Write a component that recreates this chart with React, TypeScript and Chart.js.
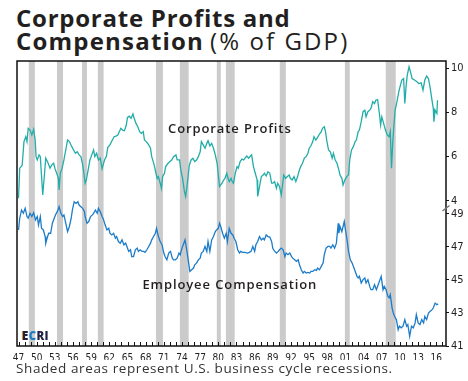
import React, { useEffect, useRef } from "react";
import { Chart, registerables } from "chart.js";

Chart.register(...registerables);

// ---- Data ----
const profitYears = [
  1947.0, 1947.2, 1947.6, 1947.9, 1948.2, 1948.4, 1948.6, 1948.9, 1949.2, 1949.5, 1949.75, 1949.9,
  1950.1, 1950.4, 1950.6, 1951.0, 1951.3, 1951.5, 1951.9, 1952.2, 1952.5, 1952.8, 1953.0, 1953.3,
  1953.6, 1953.7, 1953.9, 1954.2, 1954.5, 1954.8, 1955.1, 1955.4, 1955.8, 1956.1, 1956.4, 1956.7,
  1957.0, 1957.3, 1957.6, 1957.8, 1958.0, 1958.2, 1958.5, 1958.8, 1959.1, 1959.4, 1959.6, 1959.9,
  1960.2, 1960.5, 1960.8, 1961.2, 1961.5, 1961.75, 1962.1, 1962.5, 1962.8, 1963.1, 1963.4, 1963.9,
  1964.2, 1964.5, 1964.8, 1965.0, 1965.3, 1965.6, 1965.9, 1966.1, 1966.4, 1966.7, 1967.0, 1967.3,
  1967.6, 1967.8, 1968.1, 1968.5, 1968.8, 1969.0, 1969.4, 1969.7, 1969.9, 1970.1, 1970.4, 1970.6,
  1970.8, 1971.1, 1971.3, 1971.7, 1972.0, 1972.3, 1972.6, 1973.0, 1973.2, 1973.6, 1973.8, 1974.1,
  1974.4, 1974.6, 1974.8, 1975.0, 1975.2, 1975.5, 1975.8, 1976.1, 1976.4, 1976.7, 1977.0, 1977.2,
  1977.5, 1977.8, 1978.1, 1978.3, 1978.6, 1978.9, 1979.2, 1979.5, 1979.8, 1980.0, 1980.2, 1980.6,
  1980.9, 1981.1, 1981.4, 1981.6, 1981.8, 1982.1, 1982.3, 1982.5, 1982.8, 1983.1, 1983.3, 1983.6,
  1983.9, 1984.2, 1984.4, 1984.7, 1985.0, 1985.3, 1985.5, 1985.8, 1986.1, 1986.4, 1986.5, 1986.8,
  1987.1, 1987.4, 1987.6, 1987.9, 1988.2, 1988.5, 1988.8, 1989.0, 1989.3, 1989.6, 1989.8, 1990.1,
  1990.4, 1990.6, 1990.8, 1991.1, 1991.4, 1991.7, 1991.9, 1992.2, 1992.5, 1992.8, 1993.1, 1993.3,
  1993.6, 1993.9, 1994.2, 1994.5, 1994.8, 1995.0, 1995.3, 1995.6, 1995.8, 1996.1, 1996.4, 1996.7,
  1997.0, 1997.2, 1997.5, 1997.7, 1997.9, 1998.2, 1998.5, 1998.8, 1999.0, 1999.3, 1999.6, 1999.9,
  2000.1, 2000.4, 2000.6, 2000.9, 2001.2, 2001.5, 2001.7, 2002.0, 2002.3, 2002.6, 2002.8, 2003.1,
  2003.3, 2003.6, 2003.9, 2004.2, 2004.4, 2004.7, 2005.0, 2005.2, 2005.5, 2005.8, 2006.0, 2006.3,
  2006.6, 2006.8, 2007.0, 2007.3, 2007.6, 2007.9, 2008.2, 2008.4, 2008.6, 2008.8, 2009.0, 2009.2,
  2009.5, 2009.8, 2010.0, 2010.3, 2010.6, 2010.8, 2011.0, 2011.2, 2011.5, 2011.8, 2012.0, 2012.4,
  2012.8, 2013.1, 2013.5, 2013.8, 2014.1, 2014.4, 2014.7, 2015.0, 2015.2, 2015.5, 2015.6, 2015.8,
  2016.1, 2016.2,
];
const profitValues = [
  4.12, 5.48, 5.6, 6.68, 6.9, 6.68, 7.28, 7.2, 6.98, 7.23, 6.75, 6.0,
  5.85, 6.08, 6.0, 4.27, 5.25, 5.93, 5.7, 5.48, 5.63, 5.7, 5.48, 5.25,
  5.02, 4.5, 5.25, 5.48, 5.85, 6.3, 6.75, 6.68, 6.45, 6.3, 6.15, 6.22,
  6.08, 6.0, 5.63, 5.25, 4.8, 4.95, 5.4, 5.85, 6.08, 6.3, 6.0, 6.15,
  5.85, 5.93, 5.45, 5.85, 6.0, 6.42, 6.53, 6.75, 6.9, 6.93, 6.98, 7.28,
  7.2, 7.17, 7.43, 7.77, 7.83, 7.73, 7.93, 7.73, 7.5, 7.35, 7.13, 7.05,
  7.13, 6.75, 6.68, 6.53, 6.38, 6.0, 5.63, 5.25, 5.02, 5.1, 4.8, 4.57,
  5.1, 5.25, 5.55, 5.7, 5.78, 5.85, 6.0, 6.08, 5.85, 5.85, 5.4, 5.02,
  4.42, 4.2, 4.6, 5.1, 5.6, 5.85, 5.93, 5.78, 5.85, 6.0, 6.22, 6.68,
  6.53, 6.38, 6.6, 6.72, 6.49, 6.6, 6.38, 6.08, 5.7, 5.17, 4.65, 4.8,
  4.95, 5.02, 5.25, 5.02, 4.87, 5.02, 4.87, 4.8, 5.25, 5.55, 5.48, 5.78,
  5.89, 5.85, 5.93, 6.03, 5.93, 6.03, 6.08, 5.55, 5.25, 4.95, 4.2, 4.65,
  5.1, 5.17, 5.25, 5.13, 5.32, 5.25, 4.8, 4.8, 4.87, 4.57, 4.8, 4.65,
  4.27, 4.72, 5.17, 5.02, 5.1, 5.17, 5.02, 4.95, 5.1, 4.87, 5.1, 5.32,
  5.55, 5.7, 5.93, 6.0, 6.15, 6.38, 6.49, 6.68, 6.9, 6.75, 6.87, 7.02,
  7.13, 7.28, 7.35, 7.13, 6.75, 6.3, 6.22, 5.93, 6.15, 5.85, 5.7, 5.4,
  5.17, 5.02, 4.72, 4.95, 5.1, 5.17, 5.85, 6.3, 6.45, 6.68, 6.75, 7.13,
  7.2, 7.58, 8.03, 8.1, 7.8, 8.03, 8.1, 8.18, 8.48, 8.4, 8.55, 8.58,
  7.95, 7.43, 7.8, 7.5, 7.2, 6.98, 6.9, 7.13, 5.48, 6.6, 7.43, 8.1,
  8.48, 8.93, 9.15, 9.46, 9.53, 8.4, 9.15, 9.68, 10.06, 9.76, 9.53, 9.46,
  9.38, 9.3, 9.33, 9.0, 9.46, 9.64, 9.53, 9.08, 8.7, 8.18, 7.58, 8.1,
  7.95, 8.55,
];

const compYears = [
  1947.0, 1947.2, 1947.5, 1947.8, 1948.1, 1948.4, 1948.6, 1948.9, 1949.2, 1949.5, 1949.8, 1950.1,
  1950.3, 1950.6, 1950.8, 1951.1, 1951.4, 1951.5, 1951.8, 1952.0, 1952.3, 1952.6, 1952.9, 1953.1,
  1953.4, 1953.7, 1954.0, 1954.3, 1954.5, 1954.8, 1955.1, 1955.4, 1955.7, 1955.9, 1956.2, 1956.5,
  1956.8, 1957.0, 1957.3, 1957.6, 1957.9, 1958.0, 1958.3, 1958.6, 1958.9, 1959.2, 1959.4, 1959.7,
  1960.0, 1960.2, 1960.5, 1960.8, 1961.0, 1961.3, 1961.6, 1961.9, 1962.1, 1962.4, 1962.7, 1963.0,
  1963.2, 1963.5, 1963.8, 1964.1, 1964.4, 1964.7, 1964.9, 1965.2, 1965.5, 1965.7, 1966.0, 1966.3,
  1966.6, 1966.8, 1967.1, 1967.4, 1967.7, 1967.9, 1968.2, 1968.5, 1968.8, 1969.0, 1969.3, 1969.6,
  1969.8, 1970.1, 1970.4, 1970.7, 1971.0, 1971.2, 1971.5, 1971.8, 1972.1, 1972.4, 1972.6, 1972.9,
  1973.2, 1973.5, 1973.7, 1974.0, 1974.3, 1974.5, 1974.8, 1975.1, 1975.3, 1975.6, 1975.9, 1976.1,
  1976.4, 1976.7, 1977.0, 1977.2, 1977.5, 1977.8, 1978.1, 1978.3, 1978.6, 1978.9, 1979.2, 1979.5,
  1979.7, 1980.0, 1980.2, 1980.4, 1980.7, 1981.0, 1981.3, 1981.5, 1981.8, 1982.1, 1982.4, 1982.6,
  1982.9, 1983.2, 1983.5, 1983.7, 1984.0, 1984.4, 1984.8, 1985.1, 1985.4, 1985.7, 1986.0, 1986.2,
  1986.5, 1986.8, 1987.1, 1987.4, 1987.6, 1987.9, 1988.2, 1988.5, 1988.8, 1989.0, 1989.3, 1989.6,
  1989.9, 1990.1, 1990.4, 1990.7, 1991.0, 1991.2, 1991.5, 1991.8, 1992.1, 1992.3, 1992.6, 1992.9,
  1993.2, 1993.4, 1993.7, 1994.0, 1994.2, 1994.5, 1994.8, 1995.1, 1995.3, 1995.6, 1995.9, 1996.2,
  1996.4, 1996.7, 1997.0, 1997.3, 1997.5, 1997.8, 1998.1, 1998.4, 1998.6, 1998.9, 1999.2, 1999.5,
  1999.8, 1999.9, 2000.1, 2000.4, 2000.6, 2000.8, 2001.0, 2001.3, 2001.5, 2001.8, 2002.1, 2002.4,
  2002.7, 2002.9, 2003.1, 2003.3, 2003.6, 2003.9, 2004.2, 2004.4, 2004.7, 2005.0, 2005.2, 2005.5,
  2005.8, 2006.1, 2006.3, 2006.6, 2006.9, 2007.2, 2007.4, 2007.7, 2008.0, 2008.2, 2008.4, 2008.7,
  2008.9, 2009.1, 2009.4, 2009.7, 2009.9, 2010.2, 2010.5, 2010.8, 2011.1, 2011.3, 2011.6, 2011.9,
  2012.2, 2012.5, 2012.7, 2013.0, 2013.3, 2013.6, 2013.9, 2014.1, 2014.4, 2014.7, 2015.0, 2015.3,
  2015.5, 2015.8, 2016.1, 2016.3,
];
const compValues = [
  48.03, 48.74, 49.24, 49.04, 49.34, 48.84, 48.74, 49.04, 48.84, 49.08, 48.64, 48.84,
  48.34, 48.84, 48.13, 48.03, 47.63, 47.23, 47.63, 47.83, 47.83, 48.44, 48.74, 48.94,
  49.14, 49.44, 49.04, 48.84, 48.94, 48.44, 47.93, 48.24, 48.74, 49.24, 49.74, 49.64,
  49.74, 49.54, 49.44, 49.34, 49.14, 48.84, 48.44, 48.54, 48.84, 48.94, 49.04, 49.24,
  49.04, 49.34, 49.14, 48.84, 48.7, 48.34, 48.03, 48.13, 47.83, 47.73, 47.83, 47.53,
  47.63, 47.33, 47.23, 47.43, 47.13, 47.23, 47.03, 46.73, 46.83, 46.42, 46.42, 46.83,
  46.93, 46.73, 46.83, 46.73, 46.73, 46.67, 46.83, 47.03, 47.23, 47.43, 47.63, 47.83,
  48.13, 47.63, 47.33, 47.13, 46.63, 46.42, 46.22, 46.63, 46.73, 46.32, 46.22, 46.22,
  46.32, 46.63, 46.53, 46.93, 47.23, 47.43, 46.78, 46.02, 45.52, 45.62, 45.72, 45.92,
  46.02, 46.22, 46.32, 46.63, 46.73, 47.03, 46.73, 47.33, 46.73, 47.43, 47.63, 47.93,
  48.03, 48.13, 48.44, 48.24, 47.83, 47.53, 47.83, 47.33, 48.13, 47.83, 47.73, 47.53,
  47.33, 46.83, 46.63, 46.73, 46.67, 46.67, 46.63, 46.67, 46.73, 47.03, 46.73, 47.13,
  47.33, 47.63, 47.43, 47.53, 47.43, 47.73, 47.63, 47.6, 47.33, 46.9, 46.75, 46.63,
  46.73, 46.83, 46.93, 46.83, 46.42, 46.63, 46.53, 46.63, 46.42, 46.32, 46.22, 46.12,
  46.22, 45.92, 45.62, 45.42, 45.52, 45.42, 45.46, 45.42, 45.52, 45.52, 45.62, 45.58,
  45.72, 45.62, 45.82, 46.02, 46.53, 46.93, 47.03, 47.03, 46.93, 47.13, 46.93, 47.23,
  48.44, 47.83, 48.24, 47.93, 48.24, 48.54, 48.03, 47.33, 46.73, 46.22, 46.02, 45.72,
  45.42, 45.22, 45.12, 45.22, 44.82, 45.02, 45.12, 44.82, 45.02, 44.61, 44.41, 44.41,
  44.71, 44.41, 44.61, 44.92, 45.22, 44.41, 44.61, 44.41, 44.01, 43.91, 44.11, 43.3,
  43.0, 42.8, 42.6, 41.99, 42.2, 42.1, 42.2, 42.6, 42.2, 42.3, 41.59, 42.2,
  42.1, 42.4, 42.9, 42.4, 42.3, 42.6, 42.4, 42.8, 42.6, 43.0, 43.1, 43.2,
  43.3, 43.6, 43.5, 43.55,
];

const xTickYears = [1947, 1950, 1953, 1956, 1959, 1962, 1965, 1968, 1971, 1974, 1977, 1980, 1983, 1986, 1989, 1992, 1995, 1998, 2001, 2004, 2007, 2010, 2013, 2016];
const profitTicks = [4, 6, 8, 10];
const compTicks = [41, 43, 45, 47, 49];

const recessionStarts = [1948.7, 1953.35, 1957.5, 1960.1, 1969.7, 1973.65, 1979.75, 1981.25, 1990.15, 2000.9, 2007.65];
const recessionEnds = [1949.7, 1954.35, 1958.3, 1961.05, 1970.85, 1975.1, 1980.4, 1982.7, 1991.15, 2001.7, 2009.3];

const seriesLabels = ["Corporate Profits", "Employee Compensation"];
const seriesLabelYears = [1981.9, 1981.9];
const seriesLabelValues = [7.25, 44.68];

const PROFIT_COLOR = "#22ada8";
const COMP_COLOR = "#1c7cc9";
const AXIS_FONT = '"Liberation Sans Narrow", "DejaVu Sans Condensed", "Open Sans", sans-serif';

const decorPlugin = {
  id: "decor",
  beforeDatasetsDraw(chart: any) {
    const { ctx, chartArea: a, scales } = chart;
    const xs = scales.x;
    ctx.save();
    ctx.fillStyle = "#cbcbcb";
    recessionStarts.forEach((s, i) => {
      const x0 = xs.getPixelForValue(s);
      const x1 = xs.getPixelForValue(recessionEnds[i]);
      ctx.fillRect(x0, a.top, x1 - x0, a.bottom - a.top);
    });
    ctx.restore();
  },
  afterDatasetsDraw(chart: any) {
    const { ctx, scales } = chart;
    ctx.save();
    ctx.fillStyle = "#231f20";
    ctx.font = '600 13px "Open Sans", sans-serif';
    try {
      (ctx as any).letterSpacing = "0.9px";
    } catch (e) {}
    ctx.textAlign = "center";
    ctx.textBaseline = "middle";
    const axes = [scales.yP, scales.yC];
    seriesLabels.forEach((t, i) => {
      ctx.fillText(t, scales.x.getPixelForValue(seriesLabelYears[i]), axes[i].getPixelForValue(seriesLabelValues[i]));
    });
    ctx.restore();
  },
  afterDraw(chart: any) {
    const { ctx, chartArea: a, scales } = chart;
    ctx.save();
    // minor year ticks inside bottom
    ctx.strokeStyle = "#111";
    ctx.lineWidth = 1;
    for (let yr = 1947; yr <= 2017; yr++) {
      const x = Math.round(scales.x.getPixelForValue(yr)) + 0.5;
      ctx.beginPath();
      ctx.moveTo(x, a.bottom);
      ctx.lineTo(x, a.bottom - 4);
      ctx.stroke();
    }
    // frame
    ctx.lineWidth = 1.5;
    ctx.strokeStyle = "#111";
    ctx.strokeRect(a.left, a.top, a.right - a.left, a.bottom - a.top);
    // axis break mark
    const yb = scales.yC.top;
    ctx.strokeStyle = "#777";
    ctx.lineWidth = 1.5;
    ctx.beginPath();
    ctx.moveTo(a.right - 3.5, yb + 3);
    ctx.lineTo(a.right + 3.5, yb - 2.5);
    ctx.stroke();
    ctx.restore();
  },
};

export default function App() {
  const ref = useRef<HTMLCanvasElement | null>(null);

  useEffect(() => {
    if (!ref.current) return;
    const profitData = profitYears.map((x, i) => ({ x, y: profitValues[i] }));
    const compData = compYears.map((x, i) => ({ x, y: compValues[i] }));
    const yCommon = {
      type: "linear" as const,
      position: "right" as const,
      stack: "v",
      grid: { display: true, drawOnChartArea: false, drawTicks: true, tickLength: 3, color: "#111", lineWidth: 1 },
      border: { display: false },
      ticks: { padding: 2, color: "#231f20", font: { family: AXIS_FONT, size: 11 } },
      afterFit: (s: any) => {
        s.width = 22;
      },
    };
    const chart = new Chart(ref.current, {
      type: "line",
      data: {
        datasets: [
          {
            label: "Corporate Profits",
            data: profitData,
            yAxisID: "yP",
            borderColor: PROFIT_COLOR,
            borderWidth: 1.3,
            pointRadius: 0,
            tension: 0,
            clip: false as any,
          },
          {
            label: "Employee Compensation",
            data: compData,
            yAxisID: "yC",
            borderColor: COMP_COLOR,
            borderWidth: 1.3,
            pointRadius: 0,
            tension: 0,
            clip: false as any,
          },
        ],
      },
      options: {
        animation: false,
        responsive: false,
        maintainAspectRatio: false,
        layout: { padding: { top: 61, left: 17, right: 0, bottom: 21 } },
        plugins: { legend: { display: false }, tooltip: { enabled: false } },
        scales: {
          x: {
            type: "linear",
            min: 1946.75,
            max: 2017.6,
            grid: { display: false, drawTicks: false },
            border: { display: false },
            ticks: {
              autoSkip: false,
              maxRotation: 0,
              padding: 6,
              color: "#231f20",
              font: { family: AXIS_FONT, size: 10 },
              callback: (v: any) => String(Number(v) % 100).padStart(2, "0"),
            },
            afterBuildTicks: (s: any) => {
              s.ticks = xTickYears.map((v) => ({ value: v }));
            },
            afterFit: (s: any) => {
              s.height = 14;
            },
          },
          yP: {
            ...yCommon,
            stackWeight: 147,
            min: 3.68,
            max: 10.32,
            afterBuildTicks: (s: any) => {
              s.ticks = profitTicks.map((v) => ({ value: v }));
            },
          },
          yC: {
            ...yCommon,
            stackWeight: 138,
            min: 41,
            max: 49.36,
            afterBuildTicks: (s: any) => {
              s.ticks = compTicks.map((v) => ({ value: v }));
            },
          },
        } as any,
      },
      plugins: [decorPlugin],
    });
    return () => chart.destroy();
  }, []);

  return (
    <div
      style={{
        position: "absolute",
        left: 0,
        top: 0,
        width: 468,
        height: 381,
        background: "#fff",
        fontFamily: '"Open Sans", sans-serif',
        color: "#231f20",
        overflow: "hidden",
      }}
    >
      <div style={{ position: "absolute", left: 16, top: 6, fontSize: 24, lineHeight: "23px", whiteSpace: "nowrap" }}>
        <div style={{ fontWeight: 700, letterSpacing: 0.75 }}>Corporate Profits and</div>
        <div>
          <span style={{ fontWeight: 700, letterSpacing: 1.2 }}>Compensation</span>
          <span style={{ fontWeight: 400, letterSpacing: 2.1, marginLeft: 6 }}>(% of GDP)</span>
        </div>
      </div>
      <canvas ref={ref} width={468} height={381} style={{ position: "absolute", left: 0, top: 0, width: 468, height: 381 }} />
      <div
        style={{
          position: "absolute",
          left: 22,
          top: 330,
          fontSize: 11.5,
          lineHeight: "11.5px",
          fontWeight: 800,
          letterSpacing: 0.3,
          whiteSpace: "nowrap",
        }}
      >
        <span style={{ color: "#1e2141", textShadow: "-1px 0 0 #f0a030" }}>E</span>
        <span style={{ color: "#1c7cc9" }}>C</span>
        <span style={{ color: "#1e2141" }}>RI</span>
      </div>
      <div
        style={{
          position: "absolute",
          left: 16,
          top: 359,
          fontSize: 13.5,
          letterSpacing: 0.6,
          color: "#333",
          whiteSpace: "nowrap",
        }}
      >
        Shaded areas represent U.S. business cycle recessions.
      </div>
    </div>
  );
}
